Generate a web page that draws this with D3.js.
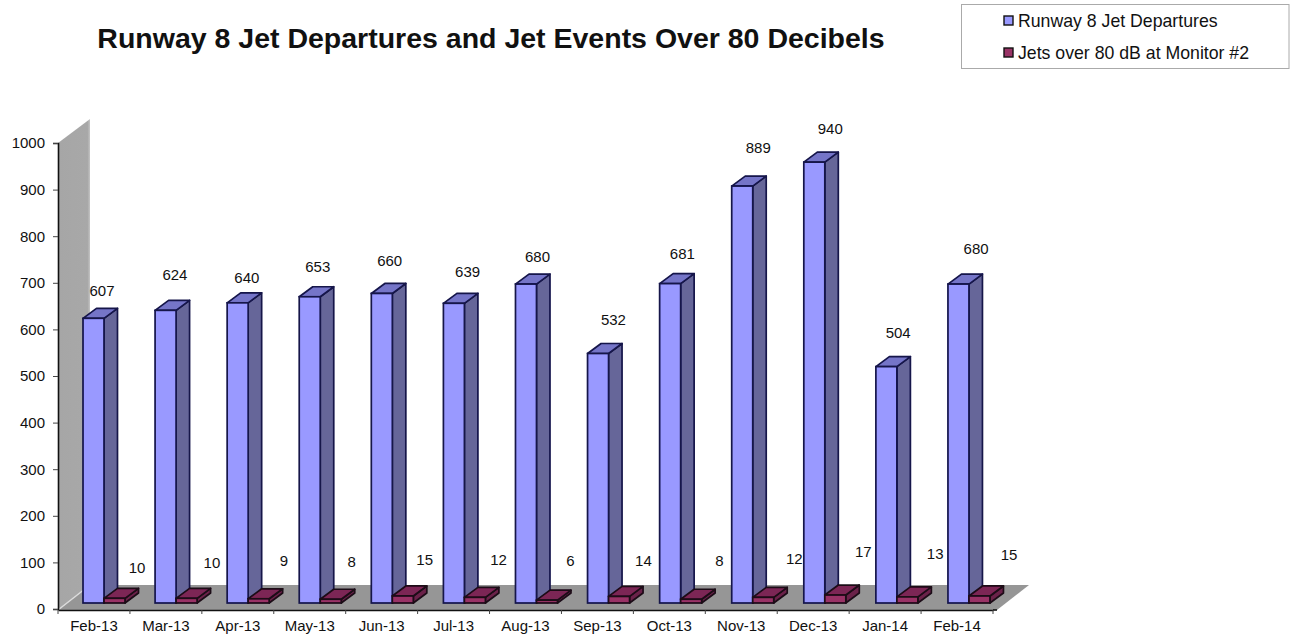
<!DOCTYPE html>
<html>
<head>
<meta charset="utf-8">
<script src="https://cdn.jsdelivr.net/npm/d3@7"></script>
<style>
  html, body { margin: 0; padding: 0; background: #fff; }
  svg { display: block; }
  text { font-family: "Liberation Sans", Arial, sans-serif; fill: #111; }
</style>
</head>
<body>
<div id="chart"></div>
<script>
const months = ["Feb-13", "Mar-13", "Apr-13", "May-13", "Jun-13", "Jul-13", "Aug-13", "Sep-13", "Oct-13", "Nov-13", "Dec-13", "Jan-14", "Feb-14"];
const departures = [607, 624, 640, 653, 660, 639, 680, 532, 681, 889, 940, 504, 680];
const over80 = [10, 10, 9, 8, 15, 12, 6, 14, 8, 12, 17, 13, 15];
const yTicks = [0, 100, 200, 300, 400, 500, 600, 700, 800, 900, 1000];
const seriesNames = ["Runway 8 Jet Departures", "Jets over 80 dB at Monitor #2"];

const canvas = { w: 1290, h: 641 };

// the labels were dragged around by hand in the original, so each one gets a nudge
const depNudge = [[2, 0], [3, -8], [3, 3], [2, -2], [2, -5], [8, -4], [6, 1], [10, -6], [7, -2], [11, -10], [11, -5], [7, -6], [13, -7]];
const overNudge = [[0, 7], [3, 2], [3, 0], [-1, 1], [0, 2], [2, 0], [2, -1], [3, 2], [7, 0], [10, -1], [7, -5], [7, -5], [9, -3]];

const svg = d3.select("#chart").append("svg")
  .attr("width", canvas.w)
  .attr("height", canvas.h)
  .attr("viewBox", `0 0 ${canvas.w} ${canvas.h}`);

const defs = svg.append("defs");
defs.append("filter").attr("id", "soft")
  .append("feGaussianBlur").attr("stdDeviation", 0.35);

const wallGrad = defs.append("linearGradient").attr("id", "wallGrad");
wallGrad.append("stop").attr("offset", "0%").attr("stop-color", "#a6a6a6");
wallGrad.append("stop").attr("offset", "92%").attr("stop-color", "#a8a8a8");
wallGrad.append("stop").attr("offset", "100%").attr("stop-color", "#c4c4c4");

const plot = { left: 58, right: 993, top: 143, bottom: 610 };
const depth = { x: 32, y: 25 };
const barDepth = { x: 13.5, y: 10 };

const x = d3.scaleBand().domain(months).range([plot.left, plot.right]);
const y = d3.scaleLinear().domain([0, 1000]).range([609, plot.top]);
// bars sit partway back in the 3d box so they have their own baseline and slightly wider step
const barX = d3.scaleBand().domain(months).range([83, 83 + 13 * 72.08]);
const barY = d3.scaleLinear().domain([0, 1000]).range([603, 134]);

const g = svg.append("g").attr("filter", "url(#soft)");

// side wall
g.append("path")
  .attr("d", `M${plot.left},${plot.top}L${plot.left + depth.x},${plot.top - 24}L${plot.left + depth.x},${plot.bottom - depth.y}L${plot.left},${plot.bottom}Z`)
  .attr("fill", "url(#wallGrad)");

// floor
g.append("path")
  .attr("d", `M${plot.left},${plot.bottom}L${plot.left + depth.x},${plot.bottom - depth.y}L${plot.right + 4 + depth.x},${plot.bottom - depth.y}L${plot.right + 4},${plot.bottom}Z`)
  .attr("fill", "#969696");

g.append("line")
  .attr("x1", plot.left).attr("y1", plot.bottom)
  .attr("x2", plot.left + depth.x).attr("y2", plot.bottom - depth.y)
  .attr("stroke", "#dcdcdc").attr("stroke-width", 1.5);

function box(sel, xPos, w, top, style) {
  const base = barY(0);
  const dx = barDepth.x, dy = barDepth.y;
  sel.append("path")
    .attr("d", `M${xPos + w},${top}L${xPos + w + dx},${top - dy}L${xPos + w + dx},${base - dy}L${xPos + w},${base}Z`)
    .attr("fill", style.side).attr("stroke", style.line).attr("stroke-width", 1.7).attr("stroke-linejoin", "round");
  sel.append("path")
    .attr("d", `M${xPos},${top}L${xPos + dx},${top - dy}L${xPos + w + dx},${top - dy}L${xPos + w},${top}Z`)
    .attr("fill", style.top).attr("stroke", style.line).attr("stroke-width", 1.7).attr("stroke-linejoin", "round");
  sel.append("rect")
    .attr("x", xPos).attr("y", top).attr("width", w).attr("height", base - top)
    .attr("fill", style.face).attr("stroke", style.line).attr("stroke-width", 1.7);
}

const blueStyle = { face: "#9999ff", side: "#666699", top: "#7474c8", line: "#14144a" };
const redStyle = { face: "#993366", side: "#6a2148", top: "#7c2654", line: "#1c0a18" };
const barW = 21;

const groups = g.selectAll("g.month")
  .data(months)
  .enter()
  .append("g")
  .attr("class", "month");

groups.each(function (m, i) {
  const sel = d3.select(this);
  const bx = barX(m);
  box(sel, bx, barW, barY(departures[i]), blueStyle);
  box(sel, bx + barW, barW, barY(over80[i]), redStyle);
});

// axes
const yAxis = d3.axisLeft(y).tickValues(yTicks).tickSize(5).tickPadding(8).tickFormat(d3.format("d"));
const axisY = svg.append("g").attr("transform", `translate(${plot.left},0)`).call(yAxis);
axisY.select(".domain").attr("stroke", "#111").attr("stroke-width", 1.6);
axisY.selectAll(".tick line").attr("stroke", "#444");
axisY.selectAll("text").style("font-size", "15px").attr("fill", "#111");

const xAxis = d3.axisBottom(x).tickSize(0).tickPadding(10);
const axisX = svg.append("g").attr("transform", `translate(0,${plot.bottom})`).call(xAxis);
axisX.select(".domain").attr("stroke", "#111").attr("stroke-width", 1.6);
axisX.selectAll("text").style("font-size", "15px").attr("fill", "#111");

svg.append("line")
  .attr("x1", plot.right).attr("x2", plot.right + 4)
  .attr("y1", plot.bottom).attr("y2", plot.bottom)
  .attr("stroke", "#111").attr("stroke-width", 1.6);

svg.append("g").selectAll("line")
  .data(months.concat("end"))
  .enter()
  .append("line")
  .attr("x1", (d, i) => plot.left + i * x.step())
  .attr("x2", (d, i) => plot.left + i * x.step())
  .attr("y1", plot.bottom)
  .attr("y2", plot.bottom + 4)
  .attr("stroke", "#444");

// data labels
svg.append("g").selectAll("text")
  .data(departures)
  .enter()
  .append("text")
  .attr("x", (d, i) => x(months[i]) + 42 + depNudge[i][0])
  .attr("y", (d, i) => barY(d) - 28 + depNudge[i][1])
  .attr("dy", "0.35em")
  .attr("text-anchor", "middle")
  .style("font-size", "15px")
  .text(d => d);

svg.append("g").selectAll("text")
  .data(over80)
  .enter()
  .append("text")
  .attr("x", (d, i) => x(months[i]) + 79 + overNudge[i][0])
  .attr("y", (d, i) => barY(d) - 38 + overNudge[i][1])
  .attr("dy", "0.35em")
  .attr("text-anchor", "middle")
  .style("font-size", "15px")
  .text(d => d);

// title
svg.append("text")
  .attr("x", 491)
  .attr("y", 38)
  .attr("dy", "0.35em")
  .attr("text-anchor", "middle")
  .style("font-size", "28.5px")
  .style("font-weight", "bold")
  .text("Runway 8 Jet Departures and Jet Events Over 80 Decibels");

// legend
const legend = svg.append("g");
legend.append("rect")
  .attr("x", 961.5).attr("y", 4.5).attr("width", 327.5).attr("height", 64)
  .attr("fill", "#fff").attr("stroke", "#aaa");

const legendRows = legend.selectAll("g")
  .data(seriesNames)
  .enter()
  .append("g")
  .attr("transform", (d, i) => `translate(1004,${20.5 + i * 32})`);

legendRows.append("rect")
  .attr("x", 0).attr("y", -4.5).attr("width", 9).attr("height", 9)
  .attr("fill", (d, i) => i === 0 ? blueStyle.face : redStyle.face)
  .attr("stroke", "#111").attr("stroke-width", 1.4);

legendRows.append("text")
  .attr("x", 14)
  .attr("dy", "0.35em")
  .style("font-size", "17.7px")
  .text(d => d);
</script>
</body>
</html>
